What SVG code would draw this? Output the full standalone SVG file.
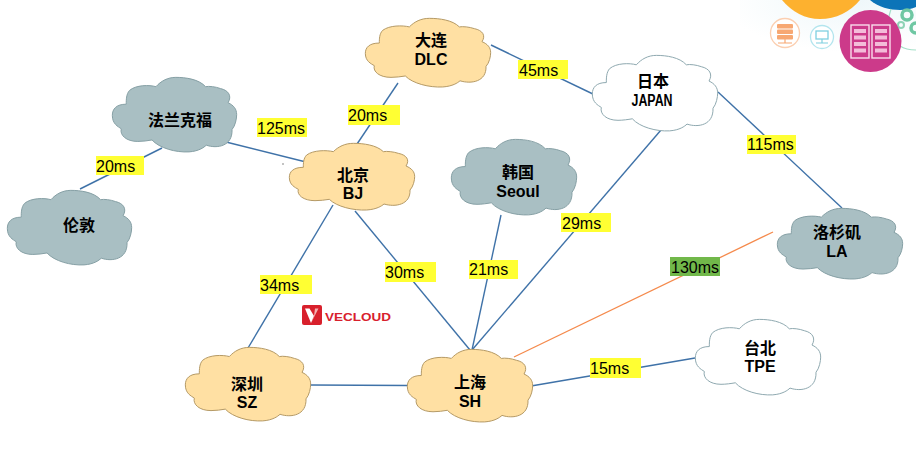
<svg xmlns="http://www.w3.org/2000/svg" width="916" height="463" viewBox="0 0 916 463">
<style>
text{font-family:"Liberation Sans","Noto Sans CJK SC",sans-serif;fill:#000}
.n{font-size:16px;font-weight:700;text-anchor:middle}
.l{font-size:16px}
.c{stroke:#3f72a8;stroke-width:1.4;fill:none}
.y{fill:#ffff33}
.o{fill:#ffe0a3}.g{fill:#a9bfc3}.w{fill:#fff}
</style>
<defs>
<radialGradient id="fade" cx="0.65" cy="0" r="0.75"><stop offset="0" stop-color="#eef7fa"/><stop offset="1" stop-color="#fff"/></radialGradient>
<symbol id="cloud" viewBox="57 39 378 204" preserveAspectRatio="none" overflow="visible">
<path vector-effect="non-scaling-stroke" d="M100 112C70 112 58 125 58 142C58 165 75 172 85 178C80 195 100 212 135 212C150 212 165 210 178 208C200 230 250 242 290 240C320 238 335 228 342 222C375 232 422 225 420 180C430 170 434 150 434 140C434 125 425 115 408 108C420 90 410 75 385 70C370 65 350 63 340 65C320 45 280 40 250 40C225 40 205 50 190 65C170 60 130 60 110 75C100 85 100 100 100 112Z"/>
</symbol>
</defs>
<rect width="916" height="463" fill="#fff"/>
<g id="decor">
<rect x="740" y="0" width="176" height="70" fill="url(#fade)"/>
<path d="M782 0C792 12 805 19 820 19C836 19 850 12 860 0Z" fill="#fdb12f"/>
<path d="M870 0C878 7 890 10 900 10C906 10 912 9 916 7V0Z" fill="#0c74b8"/>
<path d="M891 9C886 24 888 38 900 46C906 50 911 50 916 50" fill="none" stroke="#a4e0c8" stroke-width="1.2"/>
<circle cx="907" cy="15" r="5" fill="none" stroke="#6fc7a3" stroke-width="3.500"/>
<circle cx="901" cy="25" r="3" fill="none" stroke="#8fd3b6" stroke-width="2"/>
<circle cx="916" cy="28" r="5" fill="none" stroke="#6fc7a3" stroke-width="3.500"/>
<circle cx="785" cy="33" r="14.500" fill="#fff" stroke="#fbcfb1" stroke-width="1.3"/>
<rect x="777" y="24" width="16" height="4.500" rx="1" fill="#f7a873"/>
<rect x="777" y="29.500" width="16" height="4.500" rx="1" fill="#f7a873"/>
<rect x="777" y="35" width="16" height="4.500" rx="1" fill="#f7a873"/>
<path d="M785 39V43M778 43H792" stroke="#f7a873" stroke-width="1.2"/>
<circle cx="822" cy="37" r="11.500" fill="#fff" stroke="#b3e5ee" stroke-width="1.3"/>
<rect x="816" y="31" width="12" height="8" fill="#fff" stroke="#7fd0e0" stroke-width="1.3"/>
<path d="M822 39V43M816 43H828" stroke="#7fd0e0" stroke-width="1.2"/>
<circle cx="870.500" cy="41" r="31" fill="#cc3a8a"/>
<rect x="851" y="25" width="18" height="33" fill="none" stroke="#f9dcec" stroke-width="1.4"/>
<rect x="872" y="25" width="18" height="33" fill="none" stroke="#f9dcec" stroke-width="1.4"/>
<path d="M854 29h12v4h-12zM854 35.500h12v4h-12zM854 42h12v4h-12zM854 48.500h12v4h-12zM875 29h12v4h-12zM875 35.500h12v4h-12zM875 42h12v4h-12zM875 48.500h12v4h-12z" fill="#f3bcd9"/>
</g>
<g id="connectors">
<path class="c" d="M80 189L162 148"/>
<path class="c" d="M226 142L306 162"/>
<path class="c" d="M398 83L353 150"/>
<path class="c" d="M333 205L248 348"/>
<path class="c" d="M355 211L470 350"/>
<path class="c" d="M501 215L472 350"/>
<path class="c" d="M661 130L472 350"/>
<path class="c" d="M491 45L595 95"/>
<path class="c" d="M718 92L842 208"/>
<path class="c" d="M310 385L408 385.500"/>
<path class="c" d="M531 386L695 358"/>
<path d="M773 232L514 357" fill="none" stroke="#f58a4c" stroke-width="1.3"/>
</g>
<circle cx="283" cy="164" r="0.800" fill="#777"/>
<g id="logo">
<rect x="302" y="305" width="20" height="20" rx="2" fill="#d8202c"/>
<path d="M305 308.500L311 323L314 316L309.500 308.500Z" fill="#fff"/>
<path d="M314 316L311 323L318.500 308.500H315Z" fill="#f3b0b0"/>
<text x="325" y="321" font-size="10.500" font-weight="700" style="fill:#d8202c" textLength="66" lengthAdjust="spacingAndGlyphs">VECLOUD</text>
</g>
<g id="node-dlc"><use href="#cloud" x="365" y="18" width="126" height="70" class="o" stroke="#b59a66"/><text class="n" x="431" y="46">大连</text><text class="n" x="431" y="65">DLC</text></g>
<g id="node-japan"><use href="#cloud" x="592" y="55" width="126" height="77" class="w" stroke="#8fa9b0"/><text class="n" x="653" y="87">日本</text><text class="n" x="652" y="106" textLength="41" lengthAdjust="spacingAndGlyphs">JAPAN</text></g>
<g id="node-frankfurt"><use href="#cloud" x="112" y="77" width="125" height="76" class="g" stroke="#86a0a5"/><text class="n" x="180" y="126">法兰克福</text></g>
<g id="node-london"><use href="#cloud" x="7" y="190" width="125" height="76" class="g" stroke="#86a0a5"/><text class="n" x="79" y="231">伦敦</text></g>
<g id="node-bj"><use href="#cloud" x="289" y="143" width="126" height="68" class="o" stroke="#b59a66"/><text class="n" x="353" y="181">北京</text><text class="n" x="353" y="199">BJ</text></g>
<g id="node-seoul"><use href="#cloud" x="451" y="139" width="126" height="77" class="g" stroke="#86a0a5"/><text class="n" x="518" y="178">韩国</text><text class="n" x="518" y="197">Seoul</text></g>
<g id="node-la"><use href="#cloud" x="777" y="208" width="126" height="72" class="g" stroke="#86a0a5"/><text class="n" x="837" y="238">洛杉矶</text><text class="n" x="837" y="257">LA</text></g>
<g id="node-sz"><use href="#cloud" x="185" y="347" width="126" height="75" class="o" stroke="#b59a66"/><text class="n" x="247" y="390">深圳</text><text class="n" x="247" y="408">SZ</text></g>
<g id="node-sh"><use href="#cloud" x="407" y="349" width="126" height="74" class="o" stroke="#b59a66"/><text class="n" x="470" y="388">上海</text><text class="n" x="470" y="407">SH</text></g>
<g id="node-tpe"><use href="#cloud" x="695" y="319" width="126" height="77" class="w" stroke="#8fa9b0"/><text class="n" x="760" y="354">台北</text><text class="n" x="760" y="372">TPE</text></g>
<g id="labels">
<rect class="y" x="96" y="156" width="48" height="19"/><text class="l" x="96" y="172">20ms</text>
<rect class="y" x="257" y="118" width="50" height="19"/><text class="l" x="257" y="134">125ms</text>
<rect class="y" x="348" y="105" width="52" height="20"/><text class="l" x="348" y="121">20ms</text>
<rect class="y" x="518" y="60" width="50" height="19"/><text class="l" x="519" y="76">45ms</text>
<rect class="y" x="747" y="135" width="49" height="19"/><text class="l" x="747" y="150">115ms</text>
<rect class="y" x="561" y="213" width="50" height="19"/><text class="l" x="562" y="229">29ms</text>
<rect class="y" x="469" y="260" width="49" height="19"/><text class="l" x="469" y="275">21ms</text>
<rect class="y" x="385" y="262" width="51" height="20"/><text class="l" x="385" y="278">30ms</text>
<rect class="y" x="260" y="275" width="52" height="19"/><text class="l" x="260" y="291">34ms</text>
<rect class="y" x="590" y="358" width="51" height="20"/><text class="l" x="590" y="374">15ms</text>
<rect x="670" y="257" width="50" height="19" fill="#71b84a"/><text class="l" x="671" y="273">130ms</text>
</g>
</svg>
